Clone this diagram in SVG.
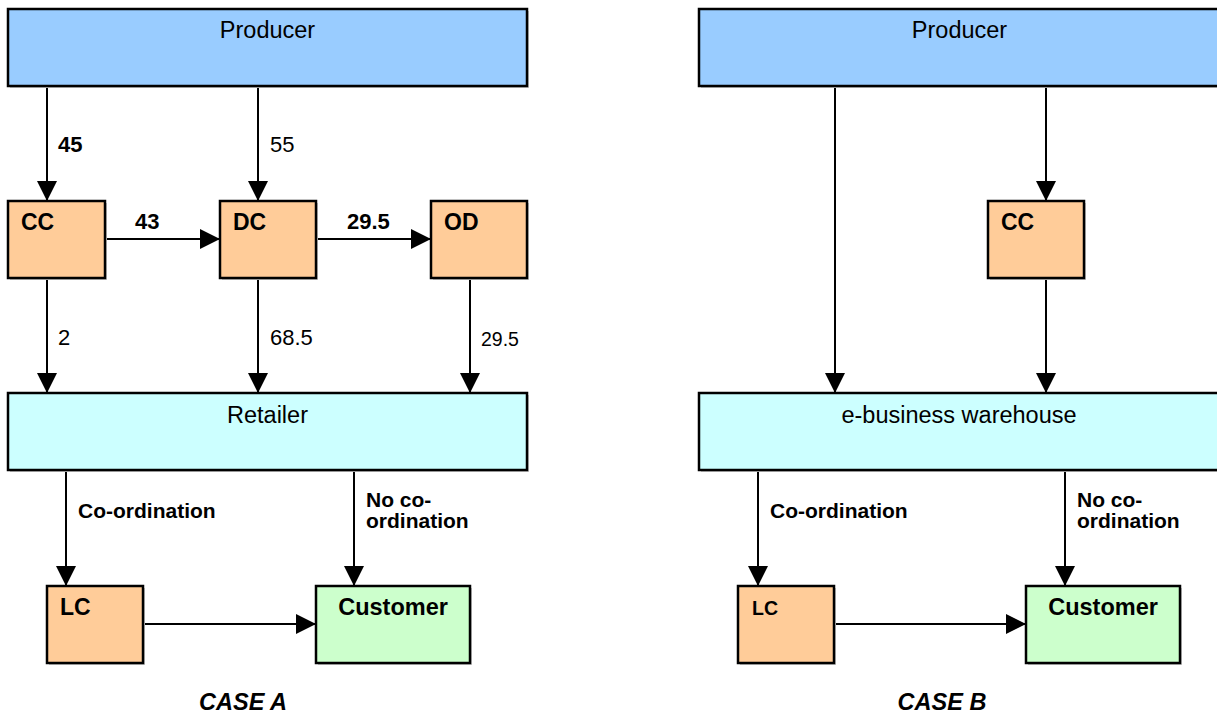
<svg xmlns="http://www.w3.org/2000/svg" width="1217" height="715" viewBox="0 0 1217 715">
<style>
.box{stroke:#000;stroke-width:2.5}
.sh{fill:#c8c8c8}
.prod{fill:#99ccff}
.org{fill:#ffcc99}
.ret{fill:#ccffff}
.cus{fill:#ccffcc}
.t{font-family:"Liberation Sans",Arial,sans-serif;fill:#000}
.big{font-size:23.5px}
.bl{font-size:22px;font-weight:bold}
.bx{font-size:23px;font-weight:bold}
.num{font-size:22px}
.lab{font-size:21px;font-weight:bold}
.case{font-size:23.5px;font-weight:bold;font-style:italic}
.c{text-anchor:middle}
.ln{stroke:#000;stroke-width:2;fill:none;marker-end:url(#ah)}
</style>
<defs>
<marker id="ah" markerUnits="userSpaceOnUse" markerWidth="20" markerHeight="20" refX="20" refY="10" orient="auto">
<path d="M0,0 L20,10 L0,20 z" fill="#000"/>
</marker>
</defs>
<rect width="1217" height="715" fill="#fff"/>

<g id="connectors">
<line class="ln" x1="47" y1="86" x2="47" y2="201"/>
<line class="ln" x1="258" y1="86" x2="258" y2="201"/>
<line class="ln" x1="105" y1="239" x2="220" y2="239"/>
<line class="ln" x1="316" y1="239" x2="431" y2="239"/>
<line class="ln" x1="47" y1="278" x2="47" y2="393"/>
<line class="ln" x1="258" y1="278" x2="258" y2="393"/>
<line class="ln" x1="470" y1="278" x2="470" y2="393"/>
<line class="ln" x1="66" y1="470" x2="66" y2="586"/>
<line class="ln" x1="354" y1="470" x2="354" y2="586"/>
<line class="ln" x1="143" y1="624" x2="316" y2="624"/>

<line class="ln" x1="835" y1="86" x2="835" y2="393"/>
<line class="ln" x1="1046" y1="86" x2="1046" y2="201"/>
<line class="ln" x1="1046" y1="278" x2="1046" y2="393"/>
<line class="ln" x1="758" y1="470" x2="758" y2="586"/>
<line class="ln" x1="1065" y1="470" x2="1065" y2="586"/>
<line class="ln" x1="834" y1="624" x2="1026" y2="624"/>
</g>

<g id="labels">
<text class="t bl" x="58" y="152">45</text>
<text class="t num" x="270" y="152">55</text>
<text class="t bl" x="135" y="229">43</text>
<text class="t bl" x="347" y="229">29.5</text>
<text class="t num" x="58" y="345">2</text>
<text class="t num" x="270" y="345">68.5</text>
<text class="t" style="font-size:19.5px" x="481" y="346">29.5</text>
<text class="t lab" x="78" y="518">Co-ordination</text>
<text class="t lab" x="366" y="507">No co-</text>
<text class="t lab" x="366" y="528">ordination</text>
<text class="t lab" x="770" y="518">Co-ordination</text>
<text class="t lab" x="1077" y="507">No co-</text>
<text class="t lab" x="1077" y="528">ordination</text>
<text class="t case c" x="243" y="710">CASE A</text>
<text class="t case c" x="942" y="710">CASE B</text>
</g>

<g id="producerA">
<rect class="sh" x="10" y="11" width="519" height="77"/>
<rect class="box prod" x="8" y="9" width="519" height="77"/>
<text class="t big c" x="267.5" y="38">Producer</text>
</g>
<g id="ccA">
<rect class="sh" x="10" y="203" width="97" height="77"/>
<rect class="box org" x="8" y="201" width="97" height="77"/>
<text class="t bx" x="21" y="230">CC</text>
</g>
<g id="dcA">
<rect class="sh" x="222" y="203" width="96" height="77"/>
<rect class="box org" x="220" y="201" width="96" height="77"/>
<text class="t bx" x="233" y="230">DC</text>
</g>
<g id="odA">
<rect class="sh" x="433" y="203" width="96" height="77"/>
<rect class="box org" x="431" y="201" width="96" height="77"/>
<text class="t bx" x="444" y="230">OD</text>
</g>
<g id="retailerA">
<rect class="sh" x="10" y="395" width="519" height="77"/>
<rect class="box ret" x="8" y="393" width="519" height="77"/>
<text class="t big c" x="267.5" y="423">Retailer</text>
</g>
<g id="lcA">
<rect class="sh" x="49" y="588" width="96" height="77"/>
<rect class="box org" x="47" y="586" width="96" height="77"/>
<text class="t bx" x="60" y="615">LC</text>
</g>
<g id="customerA">
<rect class="sh" x="318" y="588" width="154" height="77"/>
<rect class="box cus" x="316" y="586" width="154" height="77"/>
<text class="t c" style="font-size:23.5px;font-weight:bold" x="393" y="615">Customer</text>
</g>

<g id="producerB">
<rect class="sh" x="701" y="11" width="521" height="77"/>
<rect class="box prod" x="699" y="9" width="521" height="77"/>
<text class="t big c" x="959.5" y="38">Producer</text>
</g>
<g id="ccB">
<rect class="sh" x="990" y="203" width="96" height="77"/>
<rect class="box org" x="988" y="201" width="96" height="77"/>
<text class="t bx" x="1001" y="230">CC</text>
</g>
<g id="warehouseB">
<rect class="sh" x="701" y="395" width="521" height="77"/>
<rect class="box ret" x="699" y="393" width="521" height="77"/>
<text class="t big c" x="959" y="423">e-business warehouse</text>
</g>
<g id="lcB">
<rect class="sh" x="740" y="588" width="96" height="77"/>
<rect class="box org" x="738" y="586" width="96" height="77"/>
<text class="t" style="font-size:19.5px;font-weight:bold" x="752" y="615">LC</text>
</g>
<g id="customerB">
<rect class="sh" x="1028" y="588" width="154" height="77"/>
<rect class="box cus" x="1026" y="586" width="154" height="77"/>
<text class="t c" style="font-size:23.5px;font-weight:bold" x="1103" y="615">Customer</text>
</g>
</svg>
